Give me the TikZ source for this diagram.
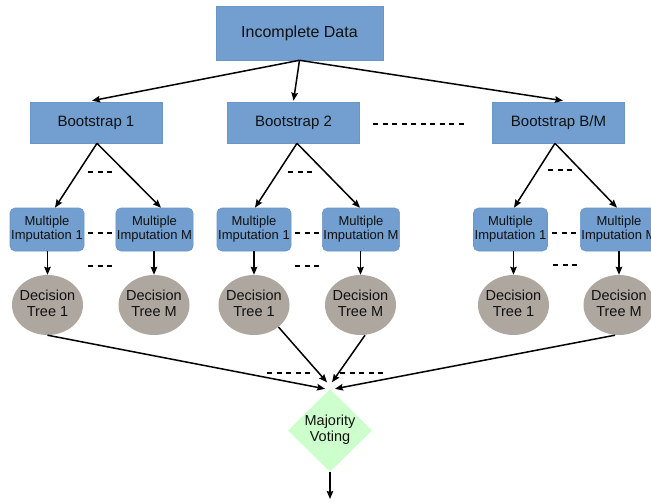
\documentclass[tikz,border=0pt]{standalone}
\usepackage{fontspec}
\setmainfont{Liberation Sans}
\usetikzlibrary{shapes.geometric,arrows.meta}
\definecolor{boxblue}{HTML}{729FCF}
\definecolor{boxedge}{HTML}{6A95C6}
\definecolor{treegray}{HTML}{AEA79F}
\definecolor{votegreen}{HTML}{CCFFCC}
\definecolor{inkc}{HTML}{111111}
\newcommand{\twoline}[2]{\makebox[0pt]{\begin{tabular}{@{}c@{}}#1\\#2\end{tabular}}}
\begin{document}
\begin{tikzpicture}[x=1pt,y=-1pt,
  box/.style={rectangle, fill=boxblue, draw=boxedge, line width=0.6pt, inner sep=0pt, text=inkc},
  topbox/.style={box, minimum width=167pt, minimum height=54pt, font=\fontsize{16}{19}\selectfont},
  bootbox/.style={box, minimum width=132pt, minimum height=41pt, font=\fontsize{15}{18}\selectfont},
  mibox/.style={box, rounded corners=5pt, align=center, inner xsep=1pt, minimum width=74pt, minimum height=43pt, font=\fontsize{13}{14}\selectfont},
  tree/.style={ellipse, fill=treegray, inner sep=0pt, minimum width=71pt, minimum height=60pt, text=inkc, font=\fontsize{14.5}{16}\selectfont},
  vote/.style={diamond, aspect=1, fill=votegreen, inner sep=0pt, minimum width=84pt, minimum height=83pt, text=inkc, font=\fontsize{14.5}{16}\selectfont},
  arr/.style={line width=1.5pt, draw=black, -{Stealth[length=8pt,width=6.5pt,inset=1pt]}},
  dots/.style={line width=1.6pt, dash pattern=on 5pt off 4.5pt}
]
\useasboundingbox (0,0) rectangle (651,503);

% nodes
\node[topbox] (inc) at (299.5,33) {Incomplete Data};
\node[bootbox] (b1) at (96,122.5) {Bootstrap 1};
\node[bootbox] (b2) at (293.5,122.5) {Bootstrap 2};
\node[bootbox] (b3) at (558.5,122.5) {Bootstrap B/M};

\node[mibox] (m11) at (47,229.5) {Multiple\\Imputation 1};
\node[mibox] (m1m) at (154.5,229.5) {Multiple\\Imputation M};
\node[mibox] (m21) at (254,229.5) {Multiple\\Imputation 1};
\node[mibox] (m2m) at (361,229.5) {Multiple\\Imputation M};
\node[mibox] (m31) at (510.5,229.5) {Multiple\\Imputation 1};
\node[mibox] (m3m) at (619,229.5) {Multiple\\Imputation M};

\node[tree] (t11) at (47.5,305) {\twoline{Decision}{Tree 1}};
\node[tree] (t1m) at (154,305) {\twoline{Decision}{Tree M}};
\node[tree] (t21) at (254,305) {\twoline{Decision}{Tree 1}};
\node[tree] (t2m) at (360.5,305) {\twoline{Decision}{Tree M}};
\node[tree] (t31) at (513.5,305) {\twoline{Decision}{Tree 1}};
\node[tree] (t3m) at (619,305) {\twoline{Decision}{Tree M}};

\node[vote] (vt) at (330,430.5) {\twoline{Majority}{Voting}};
\coordinate (out) at (330,499);

% top arrows
\draw[arr] (inc.south) -- ([xshift=-4pt,yshift=1pt]b1.north);
\draw[arr] (inc.south) -- ([yshift=1pt]b2.north);
\draw[arr] (inc.south) -- ([xshift=4.5pt,yshift=1pt]b3.north);

% bootstrap to MI
\draw[arr] ([xshift=1pt]b1.south) -- ([xshift=8pt]m11.north);
\draw[arr] ([xshift=1pt]b1.south) -- ([xshift=6.5pt]m1m.north);
\draw[arr] ([xshift=3.5pt]b2.south) -- ([xshift=1pt]m21.north);
\draw[arr] ([xshift=3.5pt]b2.south) -- ([xshift=-1pt]m2m.north);
\draw[arr] ([xshift=-3.5pt]b3.south) -- ([xshift=3.5pt]m31.north);
\draw[arr] ([xshift=-3.5pt]b3.south) -- ([xshift=-2pt]m3m.north);

% MI to trees (vertical)
\draw[arr] (t11.north |- m11.south) -- (t11.north);
\draw[arr] (t1m.north |- m1m.south) -- (t1m.north);
\draw[arr] (t21.north |- m21.south) -- (t21.north);
\draw[arr] (t2m.north |- m2m.south) -- (t2m.north);
\draw[arr] (t31.north |- m31.south) -- (t31.north);
\draw[arr] (t3m.north |- m3m.south) -- (t3m.north);

% trees to vote
\draw[arr] (t11.south) -- ([xshift=-5pt]vt.north);
\draw[arr] (t21.-42) -- ([shift={(-3pt,6.5pt)}]vt.north);
\draw[arr] ([xshift=4.5pt]t2m.south) -- ([shift={(2pt,6.5pt)}]vt.north);
\draw[arr] ([xshift=-4pt]t3m.south) -- ([xshift=5pt]vt.north);

% output
\draw[arr] (vt.south) -- (out);

% dashed ellipsis marks
\draw[dots] (373,124) -- (468,124);
\draw[dots] (88,172) -- (112,172);
\draw[dots] (288,172) -- (312,172);
\draw[dots] (548,170) -- (572,170);
\draw[dots] (88,233) -- (112,233);
\draw[dots] (295,233) -- (319,233);
\draw[dots] (552,233) -- (576,233);
\draw[dots] (88,266) -- (112,266);
\draw[dots] (295,266) -- (319,266);
\draw[dots] (553,265) -- (577,265);
\draw[dots] (267,373) -- (310,373);
\draw[dots] (340,373) -- (383,373);
\end{tikzpicture}
\end{document}
